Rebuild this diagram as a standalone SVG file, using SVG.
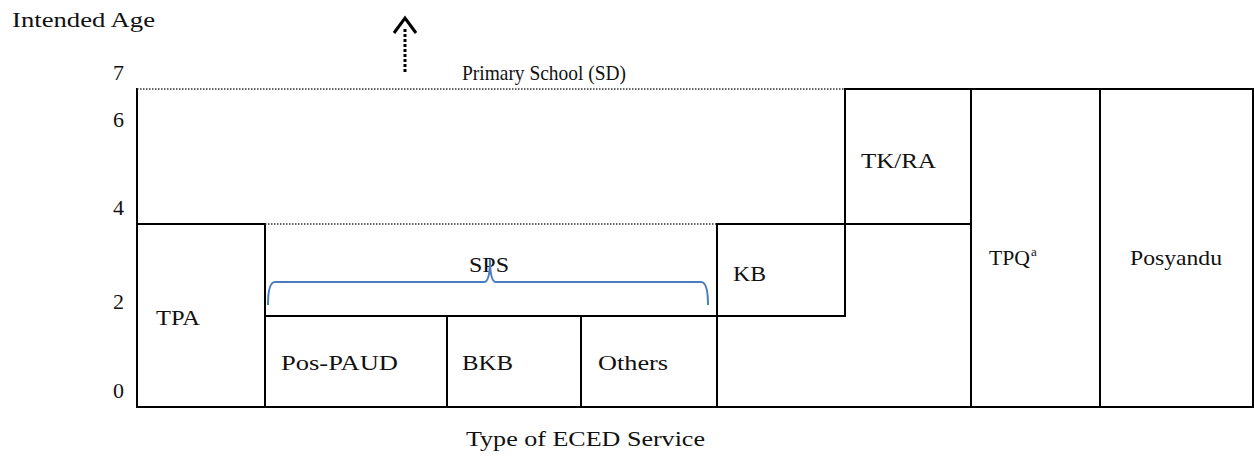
<svg xmlns="http://www.w3.org/2000/svg" width="1254" height="456" viewBox="0 0 1254 456">
  <style>
    text { font-family: "Liberation Serif", "Times New Roman", serif; font-size: 22px; fill: #111; }
    .box { stroke: #000; stroke-width: 2; fill: none; stroke-linecap: square; }
    .dot { stroke: #333; stroke-width: 1.5; stroke-dasharray: 1.5 1.5; fill: none; }
    .brace { stroke: #4a7cc4; stroke-width: 2; fill: none; }
  </style>
  <rect width="1254" height="456" fill="#fff"/>

  <!-- axis titles and age ticks -->
  <g id="axis">
    <text x="12" y="27" textLength="143" lengthAdjust="spacingAndGlyphs">Intended Age</text>
    <text x="113" y="80">7</text>
    <text x="113" y="127">6</text>
    <text x="113" y="215">4</text>
    <text x="113" y="309">2</text>
    <text x="113" y="398">0</text>
    <text x="466" y="446" textLength="239" lengthAdjust="spacingAndGlyphs">Type of ECED  Service</text>
    <line class="box" x1="137" y1="89" x2="137" y2="407"/>
    <line class="box" x1="137" y1="407" x2="1253" y2="407"/>
  </g>

  <!-- primary school band (open upward) -->
  <g id="primary-school">
    <line class="dot" x1="137" y1="89" x2="845" y2="89"/>
    <text x="462" y="80" textLength="164" lengthAdjust="spacingAndGlyphs">Primary  School (SD)</text>
  </g>

  <g id="tpa">
    <polyline class="box" points="137,224 265,224 265,407"/>
    <text x="156" y="325" textLength="44" lengthAdjust="spacingAndGlyphs">TPA</text>
  </g>

  <g id="sps">
    <line class="dot" x1="265" y1="224" x2="717" y2="224"/>
    <line class="box" x1="265" y1="316" x2="717" y2="316"/>
    <text x="469" y="272" textLength="40" lengthAdjust="spacingAndGlyphs">SPS</text>
    <path class="brace" d="M268,305 Q268,282 275,282 H484 Q490,282 490,259 Q490,282 496,282 H701 Q708,282 708,305"/>
  </g>

  <g id="pos-paud">
    <text x="281" y="370" textLength="117" lengthAdjust="spacingAndGlyphs">Pos-PAUD</text>
  </g>

  <g id="bkb">
    <line class="box" x1="447" y1="316" x2="447" y2="407"/>
    <text x="462" y="370" textLength="51" lengthAdjust="spacingAndGlyphs">BKB</text>
  </g>

  <g id="others">
    <line class="box" x1="581" y1="316" x2="581" y2="407"/>
    <text x="598" y="370" textLength="70" lengthAdjust="spacingAndGlyphs">Others</text>
  </g>

  <g id="kb">
    <line class="box" x1="717" y1="224" x2="717" y2="407"/>
    <line class="box" x1="717" y1="224" x2="971" y2="224"/>
    <polyline class="box" points="717,316 845,316 845,89"/>
    <text x="733" y="281" textLength="33" lengthAdjust="spacingAndGlyphs">KB</text>
  </g>

  <g id="tk-ra">
    <line class="box" x1="845" y1="89" x2="1253" y2="89"/>
    <text x="861" y="168" textLength="75" lengthAdjust="spacingAndGlyphs">TK/RA</text>
  </g>

  <g id="tpq">
    <line class="box" x1="971" y1="89" x2="971" y2="407"/>
    <text x="989" y="265" textLength="41" lengthAdjust="spacingAndGlyphs">TPQ</text>
    <text x="1031" y="256" style="font-size:13px">a</text>
  </g>

  <g id="posyandu">
    <line class="box" x1="1100" y1="89" x2="1100" y2="407"/>
    <line class="box" x1="1253" y1="89" x2="1253" y2="407"/>
    <text x="1130" y="265" textLength="92" lengthAdjust="spacingAndGlyphs">Posyandu</text>
  </g>

  <!-- continuation arrow above the primary school band -->
  <g id="connectors">
    <line x1="405" y1="72" x2="405" y2="28" stroke="#000" stroke-width="3" stroke-dasharray="3 2"/>
    <polyline points="394,33 405,18 416,33" fill="none" stroke="#000" stroke-width="3" stroke-linejoin="miter"/>
  </g>
</svg>
